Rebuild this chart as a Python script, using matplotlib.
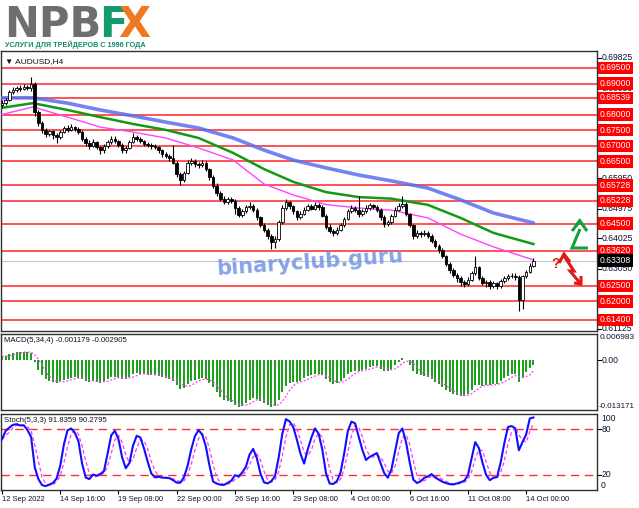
import numpy as np
import matplotlib
matplotlib.use('Agg')
import matplotlib.pyplot as plt
from matplotlib.lines import Line2D

plt.rcParams['font.family'] = ['Liberation Sans', 'DejaVu Sans']

W, H = 639, 508

# ---------------- data ----------------
open0 = 0.6830
closes = [.6838,.6848,.6872,.6878,.6885,.6882,.6890,.6887,.6900,.6808,
          .6772,.6750,.6738,.6748,.6735,.6728,.6745,.6758,.6752,.6760,
          .6755,.6745,.6722,.6710,.6700,.6712,.6695,.6685,.6698,.6712,
          .6722,.6715,.6702,.6685,.6692,.6712,.6728,.6722,.6715,.6705,
          .6702,.6698,.6695,.6685,.6672,.6668,.6660,.6645,.6608,.6590,
          .6612,.6645,.6650,.6640,.6638,.6645,.6625,.6598,.6572,.6548,
          .6530,.6520,.6528,.6522,.6500,.6478,.6490,.6502,.6505,.6495,
          .6470,.6445,.6430,.6410,.6390,.6400,.6455,.6500,.6518,.6505,
          .6490,.6470,.6482,.6495,.6505,.6498,.6510,.6502,.6475,.6440,
          .6425,.6418,.6430,.6445,.6465,.6490,.6500,.6495,.6480,.6490,
          .6500,.6508,.6502,.6495,.6470,.6450,.6455,.6475,.6495,.6505,
          .6512,.6480,.6445,.6410,.6420,.6415,.6420,.6410,.6395,.6378,
          .6365,.6345,.6320,.6300,.6285,.6275,.6262,.6255,.6270,.6290,
          .6310,.6275,.6260,.6262,.6250,.6258,.6248,.6265,.6275,.6280,
          .6282,.6278,.6205,.6280,.6295,.6315,.6331]
highs = [.6846,.6852,.6880,.6888,.6893,.6894,.6898,.6896,.6922,.6905,
         .6815,.6778,.6756,.6752,.6752,.6742,.6750,.6765,.6768,.6770,
         .6765,.6760,.6750,.6728,.6718,.6722,.6716,.6700,.6705,.6720,
         .6730,.6732,.6720,.6708,.6698,.6718,.6742,.6735,.6728,.6720,
         .6712,.6708,.6705,.6700,.6690,.6680,.6675,.6702,.6650,.6615,
         .6620,.6655,.6660,.6658,.6648,.6655,.6650,.6630,.6605,.6580,
         .6555,.6538,.6535,.6534,.6528,.6506,.6498,.6510,.6518,.6512,
         .6500,.6475,.6452,.6436,.6415,.6410,.6462,.6508,.6530,.6524,
         .6510,.6495,.6490,.6502,.6512,.6512,.6518,.6515,.6508,.6480,
         .6448,.6432,.6438,.6452,.6472,.6498,.6510,.6505,.6540,.6498,
         .6508,.6516,.6514,.6510,.6500,.6478,.6462,.6482,.6502,.6515,
         .6540,.6518,.6485,.6450,.6428,.6426,.6430,.6425,.6415,.6400,
         .6384,.6370,.6350,.6326,.6306,.6292,.6282,.6270,.6278,.6298,
         .6345,.6315,.6280,.6270,.6268,.6265,.6262,.6272,.6282,.6288,
         .6290,.6290,.6285,.6286,.6302,.6322,.6338]
lows = [.6822,.6832,.6845,.6866,.6872,.6876,.6878,.6880,.6875,.6795,
        .6765,.6740,.6728,.6730,.6722,.6710,.6722,.6740,.6745,.6746,
        .6748,.6738,.6715,.6698,.6690,.6695,.6688,.6675,.6678,.6692,
        .6705,.6708,.6695,.6678,.6676,.6688,.6708,.6715,.6708,.6698,
        .6695,.6690,.6688,.6678,.6665,.6660,.6652,.6640,.6600,.6575,
        .6585,.6608,.6638,.6632,.6630,.6632,.6618,.6590,.6565,.6540,
        .6522,.6512,.6514,.6515,.6480,.6470,.6472,.6485,.6496,.6488,
        .6462,.6438,.6422,.6400,.6368,.6372,.6395,.6450,.6495,.6498,
        .6482,.6462,.6465,.6476,.6490,.6492,.6494,.6495,.6470,.6432,
        .6418,.6410,.6412,.6425,.6440,.6460,.6485,.6488,.6472,.6475,
        .6485,.6495,.6496,.6488,.6462,.6440,.6442,.6450,.6470,.6490,
        .6500,.6475,.6440,.6400,.6405,.6408,.6410,.6402,.6388,.6370,
        .6356,.6338,.6312,.6292,.6278,.6262,.6250,.6245,.6248,.6265,
        .6285,.6268,.6252,.6245,.6240,.6242,.6238,.6244,.6260,.6270,
        .6274,.6270,.6168,.6175,.6275,.6290,.6310]

# moving averages (bar position, value)
ma_bars  = [-0.5, 8.5, 18, 27, 36, 45, 54, 63.5, 72, 80, 89, 98, 107, 117, 126, 135, 146]
ma_blue  = [0.6854,0.6854,0.6837,0.6815,0.6796,0.6776,0.6757,0.6725,0.6686,0.6654,0.6629,0.6606,0.6587,0.6564,0.6526,0.6484,0.6452]
ma_green = [0.6821,0.6837,0.6815,0.6792,0.6770,0.6751,0.6725,0.6677,0.6625,0.6584,0.6551,0.6535,0.6530,0.6510,0.6468,0.6420,0.6384]
ma_pink  = [0.6799,0.6825,0.6792,0.6760,0.6744,0.6725,0.6693,0.6654,0.6577,0.6542,0.6511,0.6500,0.6493,0.6468,0.6416,0.6375,0.6333]

macd = [0.0010,0.0012,0.0016,0.0019,0.0021,0.0022,0.0023,0.0021,0.0020,-0.0005,
        -0.0025,-0.0040,-0.0050,-0.0054,-0.0058,-0.0060,-0.0056,-0.0052,-0.0050,-0.0047,
        -0.0045,-0.0046,-0.0050,-0.0054,-0.0057,-0.0055,-0.0057,-0.0059,-0.0056,-0.0050,
        -0.0045,-0.0043,-0.0045,-0.0050,-0.0049,-0.0043,-0.0036,-0.0034,-0.0035,-0.0037,
        -0.0038,-0.0039,-0.0039,-0.0041,-0.0045,-0.0047,-0.0050,-0.0055,-0.0065,-0.0075,
        -0.0073,-0.0062,-0.0055,-0.0052,-0.0050,-0.0047,-0.0050,-0.0060,-0.0072,-0.0085,
        -0.0097,-0.0106,-0.0108,-0.0110,-0.0118,-0.0125,-0.0120,-0.0112,-0.0105,-0.0100,
        -0.0102,-0.0108,-0.0113,-0.0118,-0.0124,-0.0122,-0.0105,-0.0085,-0.0068,-0.0060,
        -0.0057,-0.0058,-0.0054,-0.0048,-0.0042,-0.0040,-0.0036,-0.0035,-0.0040,-0.0050,
        -0.0058,-0.0062,-0.0060,-0.0055,-0.0047,-0.0037,-0.0030,-0.0027,-0.0028,-0.0026,
        -0.0022,-0.0018,-0.0016,-0.0016,-0.0022,-0.0028,-0.0028,-0.0022,-0.0012,-0.0004,
        0.0006,0.0000,-0.0012,-0.0028,-0.0035,-0.0040,-0.0042,-0.0045,-0.0050,-0.0057,
        -0.0063,-0.0070,-0.0078,-0.0085,-0.0090,-0.0093,-0.0095,-0.0095,-0.0088,-0.0078,
        -0.0065,-0.0065,-0.0068,-0.0066,-0.0066,-0.0062,-0.0062,-0.0055,-0.0048,-0.0042,
        -0.0037,-0.0035,-0.0058,-0.0048,-0.0030,-0.0020,-0.0012]

levels = [0.69500,0.69000,0.68539,0.68000,0.67500,0.67000,0.66500,0.65728,
          0.65228,0.64500,0.63620,0.62500,0.62000,0.61400]
price_ticks = [0.69825,0.68850,0.67875,0.66925,0.65950,0.64975,0.64025,0.63050,0.62075,0.61125]
current_price = 0.63308
time_ticks = [0,16,32,48,64,80,96,112,128,144]
time_labels = ['12 Sep 2022','14 Sep 16:00','19 Sep 08:00','22 Sep 00:00','26 Sep 16:00',
               '29 Sep 08:00','4 Oct 00:00','6 Oct 16:00','11 Oct 08:00','14 Oct 00:00']

# ---------------- derived ----------------
c = np.array(closes); hi = np.array(highs); lo = np.array(lows)
o = np.concatenate([[open0], c[:-1]])
n = len(c)
idx = np.arange(n)
hh = np.array([hi[max(0,i-4):i+1].max() for i in range(n)])
ll = np.array([lo[max(0,i-4):i+1].min() for i in range(n)])
num = c - ll; den = hh - ll
stk = np.array([num[max(0,i-2):i+1].sum()/den[max(0,i-2):i+1].sum()*100 for i in range(n)])
std = np.array([stk[max(0,i-2):i+1].mean() for i in range(n)])
macd_a = np.array(macd)
macd_sig = np.array([macd_a[max(0,i-3):i+1].mean() for i in range(n)])

# ---------------- figure ----------------
fig = plt.figure(figsize=(W/100, H/100), dpi=100)
fig.patch.set_facecolor('white')

def rect(x0, y0, x1, y1):
    return [x0/W, 1-y1/H, (x1-x0)/W, (y1-y0)/H]

XL = ((1-2)/3.64, (597-2)/3.64)
FS = 6.2     # right-axis labels
FT = 5.4     # time labels
FH = 5.6     # panel headers
txtc = '#101030'
frame = '#303030'
AW = 596.0

ax1 = fig.add_axes(rect(1, 51, 597, 331))
ax2 = fig.add_axes(rect(1, 334, 597, 410))
ax3 = fig.add_axes(rect(1, 414, 597, 490))
for a in (ax1, ax2, ax3):
    a.set_xlim(*XL)
    for s in a.spines.values():
        s.set_color(frame); s.set_linewidth(1)
    a.set_xticks([]); a.set_yticks([])

# main panel
ax1.set_ylim(0.61046, 0.70046)
for lv in levels:
    ax1.axhline(lv, color='#ff4040', lw=1.4, alpha=0.9, zorder=1)
ax1.axhline(current_price, color='#c8c8c8', lw=0.8, zorder=1)
ax1.plot(ma_bars, ma_blue, color='#5a6ef0', lw=2.6, alpha=0.85, zorder=3, solid_capstyle='round')
ax1.plot(ma_bars, ma_green, color='#139a13', lw=1.8, zorder=3)
ax1.plot(ma_bars, ma_pink, color='#ff44ff', lw=1.0, zorder=3)
ax1.vlines(idx, lo, hi, color='black', lw=0.8, zorder=4)
up = c >= o
ax1.bar(idx[up], (c-o)[up], bottom=o[up], width=0.7, color='white', edgecolor='black', lw=0.6, zorder=5)
ax1.bar(idx[~up], (o-c)[~up], bottom=c[~up], width=0.7, color='black', edgecolor='black', lw=0.6, zorder=5)

ytr = ax1.get_yaxis_transform()
for t in price_ticks:
    ax1.plot([1.0, 1.0+4/AW], [t, t], transform=ytr, color='black', lw=0.8, clip_on=False)
    ax1.text(1.0+5/AW, t, f'{t:.5f}', transform=ytr, fontsize=FS, va='center', ha='left', color=txtc, clip_on=False)
for lv in levels:
    ax1.text(1.0+3/AW, lv, f'{lv:.5f}', transform=ytr, fontsize=FS, va='center', ha='left', color='white',
             bbox=dict(boxstyle='square,pad=0.2', fc='#ff0000', ec='none'), clip_on=False, zorder=10)
ax1.text(1.0+3/AW, current_price, f'{current_price:.5f}', transform=ytr, fontsize=FS, va='center', ha='left',
         color='white', bbox=dict(boxstyle='square,pad=0.2', fc='black', ec='none'), clip_on=False, zorder=11)
ax1.text(4/AW, 0.975, '\u25bc AUDUSD,H4', transform=ax1.transAxes, fontsize=FH+0.4, va='top', ha='left', color='#101020')

fig.text(310/W, 1-262/H, 'binaryclub.guru', fontsize=15, fontweight='bold', family='DejaVu Sans',
         color='#7394e4', alpha=0.85, ha='center', va='center', rotation=4)

# MACD panel
ax2.set_ylim(-0.013171, 0.006983)
ax2.bar(idx, macd_a, width=0.55, color='#1aa31a', zorder=2)
ax2.plot(idx, macd_sig, color='#ff33ff', lw=0.9, ls=(0, (1.5, 1.5)), zorder=3)
ytr2 = ax2.get_yaxis_transform()
ax2.text(1.0+3/AW, 0.006983, '0.006983', transform=ytr2, fontsize=FS-0.2, va='top', ha='left', color=txtc, clip_on=False)
ax2.plot([1.0, 1.0+4/AW], [0, 0], transform=ytr2, color='black', lw=0.8, clip_on=False)
ax2.text(1.0+5/AW, 0.0, '0.00', transform=ytr2, fontsize=FS, va='center', ha='left', color=txtc, clip_on=False)
ax2.text(1.0+2/AW, -0.013171, '-0.013171', transform=ytr2, fontsize=FS-0.4, va='bottom', ha='left', color=txtc, clip_on=False)
ax2.text(3/AW, 0.96, 'MACD(5,34,4) -0.001179 -0.002905', transform=ax2.transAxes, fontsize=FH, va='top', ha='left', color='#101020')

# Stochastic panel
ax3.set_ylim(0, 100)
for lv in (80, 20):
    ax3.axhline(lv, color='#ff3030', lw=1.0, ls=(0, (6, 4)), zorder=1)
ax3.plot(idx, std, color='#ff33ff', lw=0.9, ls=(0, (3, 2)), zorder=2)
ax3.plot(idx, stk, color='#1010ff', lw=1.5, zorder=3)
ytr3 = ax3.get_yaxis_transform()
ax3.text(1.0+4/AW, 100, '100', transform=ytr3, fontsize=FS, va='top', ha='left', color=txtc, clip_on=False)
ax3.text(1.0+4/AW, 0, '0', transform=ytr3, fontsize=FS, va='bottom', ha='left', color=txtc, clip_on=False)
for lv in (80, 20):
    ax3.plot([1.0, 1.0+4/AW], [lv, lv], transform=ytr3, color='black', lw=0.8, clip_on=False)
    ax3.text(1.0+5/AW, lv, str(lv), transform=ytr3, fontsize=FS, va='center', ha='left', color=txtc, clip_on=False)
ax3.text(3/AW, 0.96, 'Stoch(5,3,3) 91.8359 90.2795', transform=ax3.transAxes, fontsize=FH, va='top', ha='left', color='#101020')
ax3.set_xticks(time_ticks)
ax3.set_xticklabels(time_labels, fontsize=FT, color=txtc)
ax3.tick_params(axis='x', direction='out', length=3, width=0.8, pad=1.5, color='black')
for lbl in ax3.get_xticklabels():
    lbl.set_ha('left')

# ---------------- logo ----------------
fig.text(4/W, 1-37/H, 'NPB', fontsize=30, fontweight='bold', family='DejaVu Sans', color='#6e6e6e', ha='left', va='baseline')
fig.text(99/W, 1-37/H, 'F', fontsize=30, fontweight='bold', family='DejaVu Sans', color='#149a70', ha='left', va='baseline')
fig.text(118/W, 1-37/H, 'X', fontsize=30, fontweight='bold', family='DejaVu Sans', color='#f07820', ha='left', va='baseline')
fig.text(5/W, 1-47/H, 'УСЛУГИ ДЛЯ ТРЕЙДЕРОВ С 1996 ГОДА', fontsize=5.2, fontweight='bold', color='#128a68',
         ha='left', va='baseline')

# ---------------- arrows / question mark ----------------
def poly(pts, color, lw=2.2):
    xs = [p[0]/W for p in pts]; ys = [1-p[1]/H for p in pts]
    fig.add_artist(Line2D(xs, ys, color=color, lw=lw, solid_joinstyle='miter', solid_capstyle='butt'))

g = '#13a040'
poly([(588, 248), (572, 248), (580, 229)], g)
poly([(572, 231), (580, 221), (587, 231)], g)
poly([(575, 226), (580, 219)], g, 1.2)
r = '#e01818'
poly([(559, 263), (564, 254), (570, 262)], r)
poly([(564, 256), (574, 271), (570, 271), (580, 283)], r)
poly([(574, 283), (581, 284), (581, 276)], r)
fig.text(556/W, 1-264/H, '?', fontsize=10, fontweight='bold', color='#e01818', ha='center', va='center')

fig.savefig('out.png', dpi=100, facecolor='white')
